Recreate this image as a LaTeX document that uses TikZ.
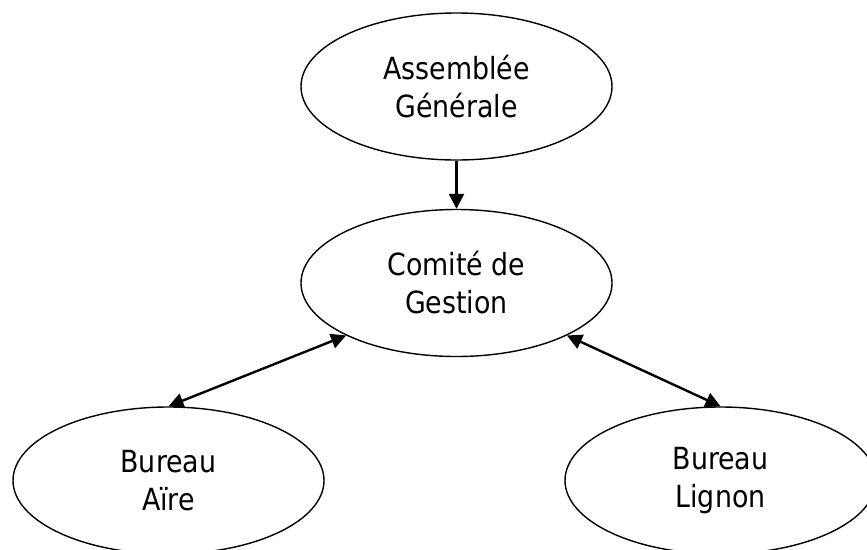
\documentclass[tikz,border=0pt]{standalone}
\usepackage{fontspec}
\setmainfont{DejaVu Sans}[FakeStretch=0.88]
\usetikzlibrary{shapes.geometric,arrows.meta}
\begin{document}
\begin{tikzpicture}[x=1pt,y=-1pt,
  unit/.style={ellipse,draw,line width=1.4pt,inner sep=0pt,minimum width=311pt,minimum height=147pt,align=center,font=\fontsize{30.5}{38}\selectfont},
  link/.style={line width=2.4pt,-{Triangle[length=15pt,width=15pt]}},
  both/.style={line width=2.4pt,{Triangle[length=15pt,width=15pt]}-{Triangle[length=15pt,width=15pt]}}]
\useasboundingbox (0,0) rectangle (867,549);
\clip (0,0) rectangle (867,549);
\node[unit] (ag) at (456.5,86.5) {Assemblée\\Générale};
\node[unit] (cg) at (456.5,283) {Comité de\\Gestion};
\node[unit] (ba) at (168.5,480.5) {Bureau\\Aïre};
\node[unit] (bl) at (720.5,480.5) {Bureau\\Lignon};
\draw[link] (ag.south) -- (cg.north);
\draw[both] (cg.south west) -- (ba.north);
\draw[both] (cg.south east) -- (bl.north);
\end{tikzpicture}
\end{document}
